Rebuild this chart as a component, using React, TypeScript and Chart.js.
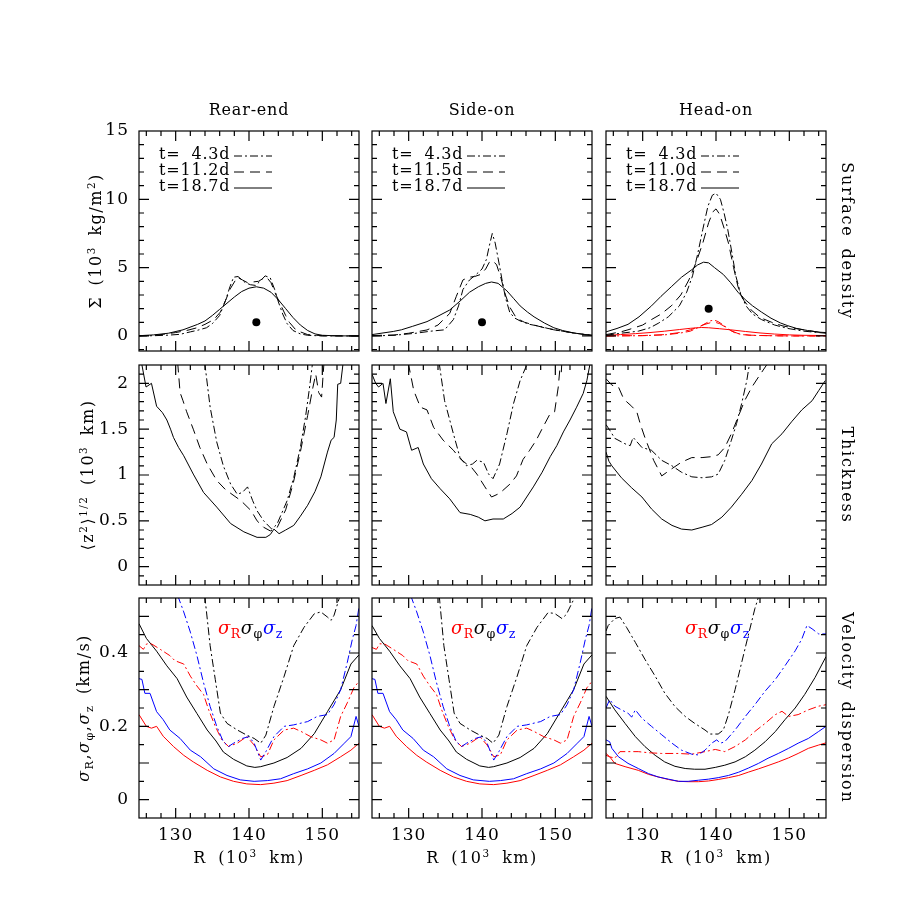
import React, { useEffect, useRef } from "react";
import { Chart, registerables } from "chart.js";
Chart.register(...registerables);

type P = [number, number];

// ---------- tick label values ----------
const rTicks = [130, 140, 150];
const sigmaTicks = [0, 5, 10, 15];
const thickTicks = [0, 0.5, 1, 1.5, 2];
const velTicks = [0, 0.2, 0.4];

// ---------- legend labels ----------
const rearTimes = ["t=\u20074.3d", "t=11.2d", "t=18.7d"];
const sideTimes = ["t=\u20074.3d", "t=11.5d", "t=18.7d"];
const headTimes = ["t=\u20074.3d", "t=11.0d", "t=18.7d"];

// ---------- Surface density ----------
const rearSig43: P[] = [[125,0],[127,0.02],[129,0.06],[130.6,0.12],[132,0.3],[133,0.42],[134.2,0.6],[135,0.9],[136,1.5],[136.8,2.6],[137.4,3.6],[137.9,4.3],[138.5,4.35],[139.5,3.9],[140.2,3.75],[140.9,3.7],[141.5,4.0],[142.2,4.4],[142.9,4.25],[143.5,3.4],[144,2.5],[144.6,1.6],[145.2,0.9],[146,0.4],[147,0.15],[148,0.05],[150,0],[155,0]];
const rearSig112: P[] = [[125,0],[127,0.05],[128.3,0.12],[130,0.25],[131.5,0.4],[132.9,0.6],[134,0.85],[135.2,1.2],[136.1,1.75],[136.8,2.6],[137.5,3.5],[138.4,4.3],[139.1,4.1],[139.8,3.9],[140.5,3.95],[141.3,4.0],[141.9,4.2],[142.4,4.3],[143,3.9],[143.6,3.1],[144.3,2.3],[145,1.5],[145.5,1.0],[146.3,0.5],[147,0.3],[148,0.1],[150,0.02],[155,0]];
const rearSig187: P[] = [[125,0.02],[127,0.08],[129,0.2],[131,0.45],[133,0.85],[134,1.1],[135,1.5],[136,1.95],[137,2.4],[138,2.85],[139,3.25],[140,3.5],[141,3.6],[142,3.5],[143,3.2],[144,2.65],[145,2.0],[146,1.35],[147,0.8],[148,0.4],[149,0.15],[150,0.05],[152,0.01],[155,0]];
const rearDot: P[] = [[141, 1]];

const sideSig43: P[] = [[125,0],[128,0.05],[131,0.2],[133,0.35],[134.9,0.45],[136.1,1.2],[136.8,2.2],[137.4,3.4],[138.3,4.1],[139.2,4.5],[140,4.9],[140.6,5.6],[141.0,6.6],[141.4,7.5],[141.8,6.8],[142.4,5.1],[142.8,3.9],[143.2,2.8],[143.8,1.7],[144.5,1.3],[145.2,1.1],[146.5,0.85],[147.9,0.7],[149,0.55],[150.5,0.4],[152,0.25],[153.5,0.15],[155,0.05]];
const sideSig115: P[] = [[125,0.03],[127,0.06],[128,0.07],[130,0.2],[132.5,0.44],[134,0.8],[135.6,1.65],[136.5,2.9],[137.4,4.1],[138.2,4.3],[139,4.35],[139.8,4.5],[140.5,4.9],[141.0,5.4],[141.5,5.5],[142.0,5.2],[142.6,4.2],[143.2,3.0],[143.8,2.1],[144.7,1.3],[145.8,1.0],[147.1,0.8],[148.5,0.6],[149.8,0.45],[151,0.35],[152.5,0.22],[154,0.1],[155,0.05]];
const sideSig187: P[] = [[125,0.1],[126.5,0.22],[127.9,0.33],[129,0.45],[130.5,0.7],[132.5,1.05],[134,1.45],[135.6,1.9],[137,2.55],[138.3,3.2],[139.5,3.6],[140.5,3.85],[141.3,3.95],[142.2,3.85],[143.4,3.3],[144.3,2.75],[145.2,2.2],[146.2,1.75],[147.1,1.4],[148.5,0.95],[149.8,0.6],[151,0.4],[152.5,0.22],[154,0.1],[155,0.06]];
const sideDot: P[] = [[140, 1]];

const headSig43: P[] = [[125,0.05],[127,0.2],[129.4,0.35],[131,0.6],[132.2,0.95],[133.5,1.4],[135,2.2],[136,3.2],[136.8,4.4],[137.5,6.0],[138.2,7.8],[138.9,9.5],[139.5,10.3],[140.0,10.45],[140.6,10.0],[141.1,9.0],[141.6,7.8],[142.2,6.0],[142.7,4.4],[143.4,3.0],[144.1,2.2],[145,1.6],[146.2,1.2],[148,0.8],[149.8,0.55],[152,0.35],[155,0.2]];
const headSig110: P[] = [[125,0.1],[127,0.3],[128,0.45],[130,0.8],[131.2,1.2],[132.5,1.6],[133.9,2.2],[135.2,3.0],[136.3,4.1],[137.3,5.4],[138.2,6.8],[139.0,8.3],[139.6,9.1],[140.0,9.3],[140.5,8.9],[141.1,7.9],[141.7,6.8],[142.4,5.0],[143.0,3.6],[143.8,2.6],[144.8,1.9],[146,1.35],[147.6,1.0],[149,0.75],[150.8,0.55],[152.5,0.4],[155,0.2]];
const headSig187: P[] = [[125,0.3],[126.5,0.55],[128,0.85],[129.5,1.4],[131.2,2.2],[132.5,2.9],[133.9,3.6],[135.3,4.3],[136.7,4.85],[137.5,5.2],[138.3,5.4],[139,5.35],[139.8,5.0],[141,4.5],[142,3.9],[143,3.2],[144,2.65],[145,2.2],[146.2,1.75],[147.5,1.3],[148.8,0.95],[149.8,0.75],[151,0.55],[152.5,0.4],[154,0.28],[155,0.25]];
const headRed43: P[] = [[125,0],[130,0.02],[133,0.08],[135,0.2],[136.5,0.35],[137.5,0.6],[138.5,0.9],[139.3,1.12],[139.8,1.15],[140.3,1.05],[141,0.8],[141.7,0.5],[142.5,0.25],[143.5,0.1],[145,0.04],[150,0],[155,0]];
const headRed110: P[] = [[125,0],[130,0.03],[133,0.1],[135,0.25],[136.5,0.45],[137.5,0.65],[138.5,0.85],[139.3,0.98],[139.9,1.0],[140.5,0.9],[141.3,0.65],[142,0.4],[143,0.18],[144.5,0.06],[148,0.01],[155,0]];
const headRed187: P[] = [[125,0.05],[127,0.1],[129,0.17],[131,0.25],[133,0.35],[135,0.47],[136.5,0.56],[138,0.62],[139,0.6],[140.5,0.53],[142,0.45],[144,0.33],[146,0.22],[148,0.14],[150,0.08],[152,0.05],[155,0.03]];
const headDot: P[] = [[139, 2]];

// ---------- Thickness ----------
const rearThk43: P[] = [[133.6,2.4],[134.0,2.2],[134.7,1.74],[135.6,1.36],[136.5,1.1],[137.5,0.9],[138.4,0.79],[139.1,0.81],[139.8,0.87],[140.5,0.72],[141.1,0.61],[142,0.5],[143.1,0.41],[143.8,0.46],[145.2,0.72],[146.1,0.97],[147,1.3],[147.7,1.63],[148.2,1.92],[148.6,2.18],[148.9,2.4]];
const rearThk112: P[] = [[129.9,2.4],[130.3,2.2],[130.6,1.9],[131.0,1.81],[131.5,1.69],[132.4,1.5],[133.3,1.3],[134.3,1.12],[135.6,0.94],[136.8,0.84],[137.5,0.8],[138.9,0.72],[140.3,0.61],[141.1,0.5],[142,0.43],[142.9,0.39],[143.8,0.42],[145,0.62],[146,0.9],[147,1.25],[148,1.65],[148.7,1.95],[149.1,2.1],[149.5,1.9],[149.9,1.85],[150.2,2.2],[150.4,2.4]];
const rearThk187: P[] = [[125.2,2.4],[125.4,2.2],[125.96,1.96],[126.7,2.0],[127.4,1.75],[128.2,1.68],[128.8,1.6],[129.3,1.5],[129.7,1.41],[130.4,1.3],[131.1,1.21],[132.4,1.01],[133.8,0.81],[135.6,0.65],[137.5,0.47],[139.3,0.38],[141.1,0.32],[142.3,0.32],[142.9,0.35],[143.4,0.41],[144.1,0.36],[145,0.4],[146.1,0.45],[147,0.55],[148,0.67],[149,0.82],[149.8,0.98],[150.7,1.25],[151.2,1.38],[151.6,1.41],[151.9,1.6],[152.1,1.99],[152.5,2.0],[152.8,2.2],[153,2.4]];

const sideThk43: P[] = [[133.9,2.4],[134.2,2.2],[134.9,1.81],[136.1,1.45],[137.0,1.19],[137.9,1.1],[138.7,1.12],[139.3,1.16],[140.2,1.14],[140.9,1.01],[141.5,0.96],[142.4,1.12],[143.4,1.45],[144.3,1.78],[145.2,2.03],[146.1,2.2],[146.5,2.4]];
const sideThk115: P[] = [[129.8,2.4],[130.0,2.2],[130.7,1.92],[131.6,1.74],[132.5,1.71],[133.4,1.52],[134.7,1.38],[136.1,1.27],[137.0,1.18],[137.9,1.12],[138.6,1.08],[139.3,1.01],[140.4,0.87],[141.3,0.76],[142.4,0.8],[143.8,0.9],[144.7,0.99],[145.6,1.17],[146.5,1.27],[147.4,1.38],[148.3,1.52],[149.3,1.67],[149.9,1.69],[150.4,1.96],[150.6,2.14],[150.8,2.1],[151.0,2.4]];
const sideThk187: P[] = [[125.05,2.09],[125.5,2.0],[125.9,1.96],[126.5,2.0],[126.9,1.78],[127.5,2.05],[127.9,1.69],[128.8,1.5],[129.7,1.47],[130.4,1.27],[131.3,1.3],[132.0,1.12],[133.1,0.96],[134.3,0.85],[135.6,0.74],[137.0,0.59],[138.4,0.57],[139.5,0.54],[140.4,0.5],[141.5,0.52],[142.9,0.52],[144.1,0.58],[145.2,0.65],[146.1,0.76],[147.0,0.87],[148.2,1.03],[149.3,1.2],[150.2,1.32],[151.1,1.47],[152.0,1.6],[152.9,1.74],[153.8,1.89],[154.3,2.03],[154.7,2.2],[155,2.3]];

const headThk43: P[] = [[125.0,1.55],[125.5,1.49],[126.2,1.4],[127.6,1.34],[128.3,1.32],[128.7,1.41],[129.9,1.3],[131.2,1.27],[132.6,1.16],[134.0,1.1],[135.3,1.03],[136.7,0.98],[138.1,0.97],[139.4,0.98],[140.3,1.01],[141.2,1.16],[142.1,1.38],[142.8,1.56],[143.5,1.78],[144.2,2.03],[144.5,2.18],[144.8,2.4]];
const headThk110: P[] = [[125.0,2.05],[125.8,1.98],[126.7,1.96],[127.3,1.85],[127.8,1.8],[128.5,1.75],[129.2,1.69],[129.7,1.55],[130.3,1.41],[131.5,1.16],[132.6,0.99],[134.0,1.07],[135.3,1.14],[136.7,1.19],[138.1,1.19],[139.4,1.2],[140.3,1.22],[141.2,1.3],[142.1,1.45],[143.0,1.63],[143.9,1.81],[144.9,1.96],[145.8,2.07],[146.9,2.2],[147.2,2.4]];
const headThk187: P[] = [[125.0,1.25],[125.4,1.15],[125.8,1.1],[127.1,0.97],[128.5,0.86],[129.9,0.76],[131.2,0.63],[132.6,0.52],[134.0,0.45],[135.3,0.41],[136.7,0.4],[138.1,0.43],[139.4,0.46],[140.8,0.54],[142.1,0.65],[143.5,0.79],[144.9,0.94],[146.2,1.12],[147.6,1.34],[149.0,1.45],[150.3,1.58],[151.7,1.71],[153.1,1.81],[154.0,1.92],[154.9,2.03]];

// ---------- Velocity dispersion ----------
const rearVelPhi187: P[] = [[125,0.48],[126,0.44],[127.4,0.405],[128.8,0.365],[130.2,0.33],[131.5,0.28],[132.9,0.235],[134.3,0.19],[135.5,0.16],[136.5,0.13],[137.9,0.11],[139.7,0.092],[140.8,0.088],[141.6,0.09],[143.4,0.1],[145.2,0.115],[147.1,0.14],[148.9,0.18],[150.7,0.24],[152.5,0.3],[153.9,0.37],[155,0.395]];
const rearVelZ187: P[] = [[125,0.33],[125.4,0.328],[125.8,0.29],[126.5,0.29],[127.4,0.24],[128.3,0.218],[129.2,0.19],[130.6,0.167],[132.0,0.135],[133.4,0.117],[135.2,0.084],[137.0,0.066],[138.8,0.054],[140.7,0.05],[142.5,0.052],[144.3,0.057],[146.1,0.071],[148.0,0.084],[149.8,0.1],[151.6,0.126],[153.0,0.154],[153.9,0.172],[154.6,0.227],[155,0.2]];
const rearVelR187: P[] = [[125,0.232],[126.0,0.2],[126.7,0.195],[127.4,0.2],[128.3,0.173],[129.7,0.145],[131.1,0.121],[132.4,0.103],[134.3,0.08],[136.1,0.062],[137.9,0.05],[139.7,0.043],[141.6,0.041],[143.4,0.045],[145.2,0.052],[147.1,0.066],[148.9,0.08],[150.7,0.095],[152.5,0.117],[153.9,0.135],[155,0.154]];
const rearVelPhi43: P[] = [[133.6,0.6],[134.0,0.55],[134.7,0.42],[135.4,0.328],[136.1,0.236],[137.0,0.208],[138.4,0.19],[139.7,0.176],[140.7,0.167],[141.6,0.154],[142.3,0.176],[143.4,0.254],[144.8,0.337],[146.1,0.42],[147.5,0.47],[148.9,0.507],[149.8,0.512],[150.7,0.498],[151.2,0.489],[151.6,0.503],[152.3,0.549],[152.5,0.6]];
const rearVelZ43: P[] = [[130.0,0.6],[130.4,0.55],[131.1,0.512],[132.0,0.457],[132.9,0.393],[133.8,0.319],[134.7,0.254],[135.6,0.2],[136.5,0.158],[137.2,0.145],[137.9,0.154],[139.1,0.167],[140.0,0.172],[140.7,0.154],[141.6,0.108],[142.3,0.131],[143.4,0.172],[144.8,0.2],[146.1,0.204],[148.0,0.213],[149.3,0.227],[150.7,0.232],[151.6,0.259],[152.5,0.3],[153.4,0.374],[154.1,0.438],[154.6,0.475],[155,0.525]];
const rearVelR43: P[] = [[125,0.42],[125.6,0.41],[126.05,0.425],[126.7,0.425],[127.9,0.41],[129.2,0.393],[129.9,0.379],[131.1,0.37],[132.0,0.337],[132.9,0.31],[133.8,0.287],[134.5,0.245],[135.4,0.2],[136.3,0.163],[137.2,0.145],[138.4,0.154],[139.7,0.172],[140.7,0.149],[141.6,0.117],[142.5,0.122],[143.4,0.163],[144.8,0.19],[146.1,0.195],[147.1,0.186],[148.4,0.172],[149.8,0.163],[150.7,0.154],[151.6,0.163],[152.5,0.227],[153.4,0.264],[154.3,0.305],[155,0.323]];

const sideVelPhi187: P[] = [[125,0.475],[126,0.44],[127.4,0.405],[128.8,0.365],[130.2,0.33],[131.5,0.28],[132.9,0.235],[134.3,0.19],[135.5,0.16],[136.5,0.13],[137.9,0.11],[139.7,0.092],[140.9,0.088],[141.6,0.09],[143.4,0.1],[145.2,0.115],[147.1,0.14],[148.9,0.18],[150.7,0.24],[152.5,0.3],[153.9,0.37],[155,0.395]];
const sideVelZ187: P[] = [[125,0.33],[125.4,0.328],[125.8,0.29],[126.5,0.29],[127.4,0.24],[128.3,0.218],[129.2,0.19],[130.6,0.167],[132.0,0.135],[133.4,0.117],[135.2,0.084],[137.0,0.066],[138.8,0.054],[141.0,0.05],[142.5,0.052],[144.3,0.057],[146.1,0.071],[148.0,0.084],[149.8,0.1],[151.6,0.126],[153.0,0.154],[153.9,0.172],[154.6,0.227],[155,0.2]];
const sideVelR187: P[] = [[125,0.232],[126.0,0.2],[126.7,0.195],[127.4,0.2],[128.3,0.173],[129.7,0.145],[131.1,0.121],[132.4,0.103],[134.3,0.08],[136.1,0.062],[137.9,0.05],[139.7,0.043],[141.6,0.041],[143.4,0.045],[145.2,0.052],[147.1,0.066],[148.9,0.08],[150.7,0.095],[152.5,0.117],[153.9,0.135],[155,0.154]];
const sideVelPhi43: P[] = [[133.8,0.6],[134.2,0.55],[134.8,0.42],[135.5,0.328],[136.2,0.236],[137.0,0.208],[138.4,0.19],[139.7,0.176],[140.7,0.167],[141.5,0.154],[142.3,0.176],[143.4,0.254],[144.8,0.337],[146.1,0.42],[147.5,0.47],[149.0,0.51],[149.9,0.508],[150.9,0.494],[151.5,0.505],[152.6,0.55],[153.0,0.6]];
const sideVelZ43: P[] = [[130.0,0.6],[130.4,0.55],[131.1,0.512],[132.0,0.457],[132.9,0.393],[133.8,0.319],[134.7,0.254],[135.6,0.2],[136.5,0.158],[137.2,0.145],[137.9,0.154],[139.1,0.167],[140.0,0.172],[140.7,0.154],[141.6,0.108],[142.3,0.131],[143.4,0.172],[144.8,0.2],[146.1,0.204],[148.0,0.213],[149.3,0.227],[150.7,0.232],[151.6,0.259],[152.5,0.3],[153.4,0.374],[154.1,0.438],[154.6,0.475],[155,0.525]];
const sideVelR43: P[] = [[125,0.415],[125.6,0.41],[126.05,0.425],[126.7,0.425],[127.9,0.41],[129.2,0.393],[129.9,0.379],[131.1,0.37],[132.0,0.337],[132.9,0.31],[133.8,0.287],[134.5,0.245],[135.4,0.2],[136.3,0.163],[137.2,0.145],[138.4,0.154],[139.7,0.172],[140.7,0.149],[141.6,0.117],[142.5,0.122],[143.4,0.163],[144.8,0.19],[146.1,0.195],[147.1,0.186],[148.4,0.172],[149.8,0.163],[150.7,0.154],[151.6,0.163],[152.5,0.227],[153.4,0.264],[154.3,0.305],[155,0.323]];

const headVelPhi43: P[] = [[125,0.46],[125.3,0.475],[126.2,0.494],[126.9,0.498],[127.8,0.47],[129.0,0.429],[130.3,0.383],[131.7,0.337],[133.0,0.291],[134.4,0.254],[135.8,0.227],[137.1,0.208],[138.5,0.19],[139.2,0.179],[140.3,0.179],[141.0,0.19],[141.7,0.232],[142.6,0.3],[143.5,0.374],[144.4,0.448],[145.3,0.521],[145.8,0.553],[146,0.6]];
const headVelPhi187: P[] = [[125,0.282],[126.2,0.245],[127.6,0.208],[129.0,0.172],[130.3,0.145],[131.7,0.121],[133.0,0.103],[134.4,0.091],[135.8,0.085],[137.1,0.083],[138.5,0.083],[139.9,0.088],[141.2,0.094],[142.6,0.103],[144.0,0.117],[145.3,0.135],[146.7,0.158],[148.1,0.186],[149.4,0.218],[150.8,0.25],[152.1,0.287],[153.5,0.333],[155,0.39]];
const headVelZ187: P[] = [[125,0.163],[125.5,0.158],[125.8,0.14],[126.7,0.117],[128.0,0.099],[129.4,0.085],[130.8,0.071],[132.1,0.062],[133.5,0.056],[134.9,0.05],[136.2,0.05],[137.6,0.053],[139.0,0.056],[140.3,0.06],[141.7,0.066],[143.1,0.075],[144.4,0.086],[145.8,0.099],[147.1,0.113],[148.5,0.126],[149.9,0.14],[151.2,0.154],[152.6,0.167],[154.0,0.186],[155,0.2]];
const headVelR187: P[] = [[125,0.121],[125.5,0.117],[126.2,0.099],[127.6,0.09],[129.4,0.08],[130.8,0.069],[132.1,0.062],[133.5,0.055],[134.9,0.05],[136.2,0.049],[137.6,0.049],[139.0,0.051],[140.3,0.055],[141.7,0.06],[143.1,0.066],[144.4,0.075],[145.8,0.084],[147.1,0.093],[148.5,0.103],[149.9,0.114],[151.2,0.126],[152.6,0.14],[154.0,0.149],[155,0.155]];
const headVelZ43: P[] = [[125,0.25],[125.5,0.273],[126.2,0.255],[127.1,0.245],[128.0,0.236],[128.5,0.225],[129.0,0.245],[129.9,0.222],[131.2,0.2],[132.6,0.177],[134.0,0.154],[135.3,0.135],[136.7,0.124],[137.6,0.122],[138.5,0.135],[139.4,0.154],[140.1,0.163],[140.6,0.154],[141.2,0.158],[142.6,0.19],[144.0,0.227],[145.3,0.259],[146.7,0.296],[148.1,0.328],[149.4,0.365],[150.8,0.406],[151.7,0.438],[152.4,0.475],[153.1,0.466],[154.0,0.452],[155,0.452]];
const headVelR43: P[] = [[125,0.126],[125.5,0.117],[126.2,0.113],[126.9,0.131],[128.0,0.131],[129.4,0.131],[130.8,0.128],[132.6,0.126],[134.9,0.126],[136.7,0.124],[138.5,0.131],[139.9,0.137],[141.2,0.131],[142.6,0.145],[144.0,0.163],[145.3,0.186],[146.7,0.208],[148.1,0.232],[149.0,0.241],[149.9,0.227],[151.2,0.232],[152.6,0.245],[154.0,0.255],[155,0.259]];

// ---------- styles / layout ----------
const BLACK = "#000000";
const RED = "#ff0000";
const BLUE = "#0000ff";
const DASHDOT = [8, 3, 2, 3];
const DASHED = [10, 6];
const SOLID: number[] = [];

const COL_LEFT = [139, 372, 606];
const ROW_TOP = [131, 365, 598];
const PW = 220;
const PH = 220;
const FONT = '"DejaVu Serif", "Liberation Serif", serif';

type RowCfg = { min: number; max: number; minor: number; major: number; labels: number[] };
const ROWS: RowCfg[] = [
  { min: -1.1, max: 15, minor: 1, major: 5, labels: sigmaTicks },
  { min: -0.2, max: 2.2, minor: 0.1, major: 0.5, labels: thickTicks },
  { min: -0.05, max: 0.55, minor: 0.05, major: 0.1, labels: velTicks },
];

type Series = { data: P[]; color: string; dash: number[]; dot?: boolean };
const line = (data: P[], color: string, dash: number[]): Series => ({ data, color, dash });
const dot = (data: P[]): Series => ({ data, color: BLACK, dash: SOLID, dot: true });

const LEG_DASH = [DASHDOT, DASHED, SOLID];

type PanelCfg = { row: number; col: number; series: Series[]; legend?: string[] };
const PANELS: PanelCfg[] = [
  { row: 0, col: 0, legend: rearTimes, series: [line(rearSig43, BLACK, DASHDOT), line(rearSig112, BLACK, DASHED), line(rearSig187, BLACK, SOLID), dot(rearDot)] },
  { row: 0, col: 1, legend: sideTimes, series: [line(sideSig43, BLACK, DASHDOT), line(sideSig115, BLACK, DASHED), line(sideSig187, BLACK, SOLID), dot(sideDot)] },
  { row: 0, col: 2, legend: headTimes, series: [line(headSig43, BLACK, DASHDOT), line(headSig110, BLACK, DASHED), line(headSig187, BLACK, SOLID), line(headRed43, RED, DASHDOT), line(headRed110, RED, DASHED), line(headRed187, RED, SOLID), dot(headDot)] },
  { row: 1, col: 0, series: [line(rearThk43, BLACK, DASHDOT), line(rearThk112, BLACK, DASHED), line(rearThk187, BLACK, SOLID)] },
  { row: 1, col: 1, series: [line(sideThk43, BLACK, DASHDOT), line(sideThk115, BLACK, DASHED), line(sideThk187, BLACK, SOLID)] },
  { row: 1, col: 2, series: [line(headThk43, BLACK, DASHDOT), line(headThk110, BLACK, DASHED), line(headThk187, BLACK, SOLID)] },
  { row: 2, col: 0, series: [line(rearVelPhi43, BLACK, DASHDOT), line(rearVelZ43, BLUE, DASHDOT), line(rearVelR43, RED, DASHDOT), line(rearVelPhi187, BLACK, SOLID), line(rearVelZ187, BLUE, SOLID), line(rearVelR187, RED, SOLID)] },
  { row: 2, col: 1, series: [line(sideVelPhi43, BLACK, DASHDOT), line(sideVelZ43, BLUE, DASHDOT), line(sideVelR43, RED, DASHDOT), line(sideVelPhi187, BLACK, SOLID), line(sideVelZ187, BLUE, SOLID), line(sideVelR187, RED, SOLID)] },
  { row: 2, col: 2, series: [line(headVelPhi43, BLACK, DASHDOT), line(headVelZ43, BLUE, DASHDOT), line(headVelR43, RED, DASHDOT), line(headVelPhi187, BLACK, SOLID), line(headVelZ187, BLUE, SOLID), line(headVelR187, RED, SOLID)] },
];

function tickValues(min: number, max: number, step: number, major: number) {
  const out: { v: number; major: boolean }[] = [];
  const n0 = Math.ceil(min / step - 1e-6);
  const n1 = Math.floor(max / step + 1e-6);
  for (let n = n0; n <= n1; n++) {
    const v = +(n * step).toFixed(6);
    const isMajor = Math.abs(Math.round(v / major) * major - v) < 1e-6;
    out.push({ v, major: isMajor });
  }
  return out;
}

function fmt(v: number) {
  return String(+v.toFixed(3));
}

const framePlugin = {
  id: "pgframe",
  afterDatasetsDraw(chart: any, _args: any, opts: any) {
    const { ctx, chartArea } = chart;
    const { left, right, top, bottom } = chartArea;
    const xs = chart.scales.x;
    const ys = chart.scales.y;
    ctx.save();
    ctx.strokeStyle = "#000";
    ctx.lineWidth = 1.2;
    ctx.setLineDash([]);
    ctx.strokeRect(left, top, right - left, bottom - top);
    const MAJ = 10, MIN = 5;
    ctx.beginPath();
    for (const t of tickValues(xs.min, xs.max, 2, 10)) {
      const px = xs.getPixelForValue(t.v);
      if (px <= left + 1 || px >= right - 1) continue;
      const L = t.major ? MAJ : MIN;
      ctx.moveTo(px, bottom); ctx.lineTo(px, bottom - L);
      ctx.moveTo(px, top); ctx.lineTo(px, top + L);
    }
    for (const t of tickValues(ys.min, ys.max, opts.minor, opts.major)) {
      const py = ys.getPixelForValue(t.v);
      if (py <= top + 1 || py >= bottom - 1) continue;
      const L = t.major ? MAJ : MIN;
      ctx.moveTo(left, py); ctx.lineTo(left + L, py);
      ctx.moveTo(right, py); ctx.lineTo(right - L, py);
    }
    ctx.stroke();
    ctx.fillStyle = "#000";
    ctx.font = `17px ${FONT}`;
    try { (ctx as any).letterSpacing = "1px"; } catch (e) {}
    if (opts.showY) {
      ctx.textAlign = "right";
      ctx.textBaseline = "middle";
      for (const v of opts.labels as number[]) {
        ctx.fillText(fmt(v), left - 10, ys.getPixelForValue(v));
      }
    }
    if (opts.showX) {
      ctx.textAlign = "center";
      ctx.textBaseline = "top";
      for (const v of rTicks) {
        ctx.fillText(String(v), xs.getPixelForValue(v), bottom + 9);
      }
    }
    if (opts.legend) {
      ctx.font = `16px ${FONT}`;
      try { (ctx as any).letterSpacing = "0.8px"; } catch (e) {}
      ctx.textAlign = "left";
      ctx.textBaseline = "middle";
      (opts.legend as string[]).forEach((txt, i) => {
        const y = top + 24 + i * 16;
        ctx.fillText(txt, left + 20, y);
        ctx.beginPath();
        ctx.lineWidth = 1;
        ctx.setLineDash(LEG_DASH[i]);
        ctx.moveTo(left + 95, y + 1);
        ctx.lineTo(left + 133, y + 1);
        ctx.stroke();
      });
      ctx.setLineDash([]);
    }
    ctx.restore();
  },
};

function makeChart(canvas: HTMLCanvasElement, p: PanelCfg) {
  const r = ROWS[p.row];
  const L = COL_LEFT[p.col];
  const T = ROW_TOP[p.row];
  const datasets = p.series.map((s) => ({
    data: s.data.map(([x, y]) => ({ x, y })),
    borderColor: s.color,
    backgroundColor: s.color,
    borderWidth: 1,
    borderDash: s.dash,
    showLine: !s.dot,
    pointRadius: s.dot ? 4 : 0,
    pointBorderWidth: 0,
    pointBackgroundColor: s.color,
    tension: 0,
    fill: false,
  }));
  return new Chart(canvas, {
    type: "line",
    data: { datasets } as any,
    options: {
      animation: false,
      responsive: false,
      maintainAspectRatio: false,
      devicePixelRatio: 1,
      events: [],
      layout: { padding: { left: L, top: T, right: 900 - L - PW, bottom: 900 - T - PH } },
      scales: {
        x: { type: "linear", min: 125, max: 155, display: false },
        y: { type: "linear", min: r.min, max: r.max, display: false },
      },
      plugins: {
        legend: { display: false },
        tooltip: { enabled: false },
        pgframe: {
          minor: r.minor,
          major: r.major,
          labels: r.labels,
          showY: p.col === 0,
          showX: p.row === 2,
          legend: p.legend,
        },
      } as any,
    },
    plugins: [framePlugin],
  });
}

const Txt = ({ x, y, rot = 0, size = 16, anchor = "center", ls = 1.5, ws = 4, children }: any) => (
  <div
    style={{
      position: "absolute",
      left: x,
      top: y,
      transform: `translate(${anchor === "left" ? "0" : "-50%"},-50%) rotate(${rot}deg)`,
      whiteSpace: "nowrap",
      fontSize: size,
      lineHeight: 1,
      letterSpacing: ls,
      wordSpacing: ws,
    }}
  >
    {children}
  </div>
);

const subS: React.CSSProperties = { fontSize: "0.7em", verticalAlign: "-0.35em" };
const supS: React.CSSProperties = { fontSize: "0.65em", verticalAlign: "0.55em" };

const colTitles = ["Rear-end", "Side-on", "Head-on"];
const rowTitles = ["Surface density", "Thickness", "Velocity dispersion"];

export default function App() {
  const refs = useRef<(HTMLCanvasElement | null)[]>([]);
  useEffect(() => {
    const charts = PANELS.map((p, i) => makeChart(refs.current[i] as HTMLCanvasElement, p));
    return () => charts.forEach((c) => c.destroy());
  }, []);
  const rowMid = ROW_TOP.map((t) => t + PH / 2);
  const colMid = COL_LEFT.map((l) => l + PW / 2);
  return (
    <div
      style={{
        position: "absolute",
        left: 0,
        top: 0,
        width: 900,
        height: 900,
        background: "#fff",
        fontFamily: FONT,
        color: "#000",
        overflow: "hidden",
      }}
    >
      {PANELS.map((p, i) => (
        <canvas
          key={i}
          ref={(el) => {
            refs.current[i] = el;
          }}
          width={900}
          height={900}
          style={{ position: "absolute", left: 0, top: 0, width: 900, height: 900 }}
        />
      ))}
      {colTitles.map((t, i) => (
        <Txt key={t} x={colMid[i]} y={110} ls={0.8}>{t}</Txt>
      ))}
      {rowTitles.map((t, i) => (
        <Txt key={t} x={847} y={rowMid[i]} rot={90} ls={1.8}>{t}</Txt>
      ))}
      {colMid.map((cx, i) => (
        <Txt key={"xl" + i} x={cx} y={857} ls={1.5} ws={5}>R (10<span style={supS}>3</span> km)</Txt>
      ))}
      <Txt x={95} y={rowMid[0]} rot={-90}>
        Σ (10<span style={supS}>3</span> kg/m<span style={supS}>2</span>)
      </Txt>
      <Txt x={87} y={rowMid[1]} rot={-90}>
        ⟨z<span style={supS}>2</span>⟩<span style={supS}>1/2</span> (10<span style={supS}>3</span> km)
      </Txt>
      <Txt x={86} y={rowMid[2]} rot={-90}>
        <i>σ</i><span style={subS}>R</span>,<i>σ</i><span style={subS}>φ</span>,<i>σ</i><span style={subS}>z</span> (km/s)
      </Txt>
      {COL_LEFT.map((l, i) => (
        <Txt key={"sg" + i} x={l + 79} y={ROW_TOP[2] + 32} anchor="left" size={18} ls={0.5}>
          <span style={{ color: RED }}><i>σ</i><span style={subS}>R</span></span>
          <span style={{ color: BLACK }}><i>σ</i><span style={subS}>φ</span></span>
          <span style={{ color: BLUE }}><i>σ</i><span style={subS}>z</span></span>
        </Txt>
      ))}
    </div>
  );
}
